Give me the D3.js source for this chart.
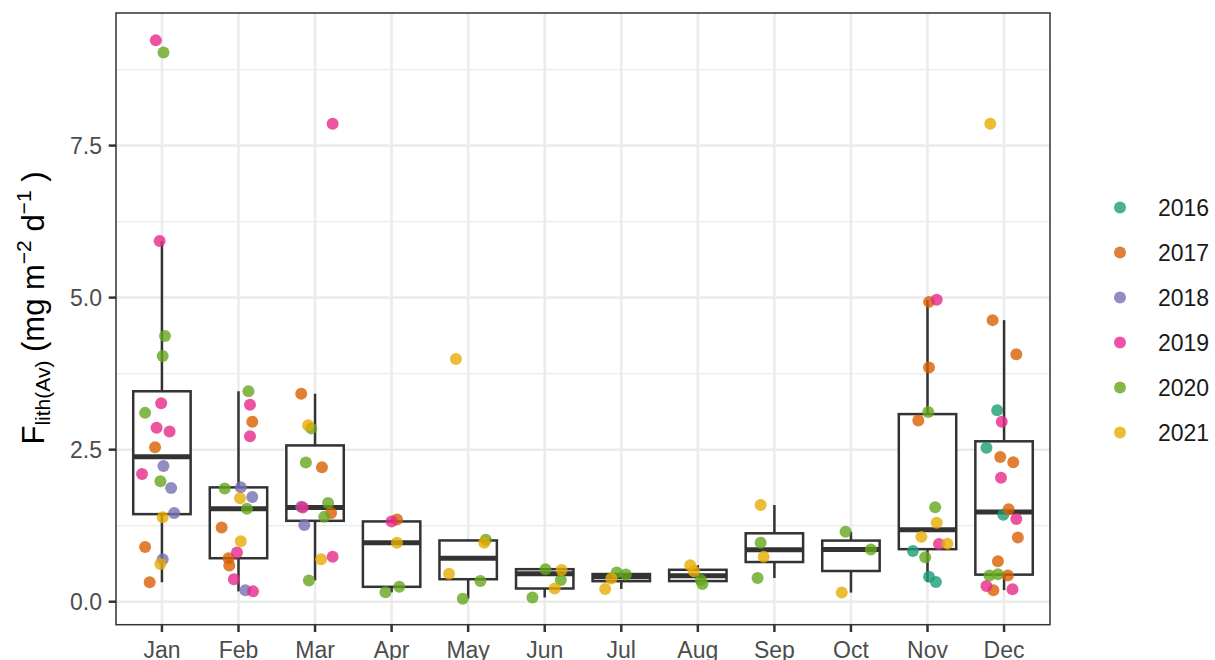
<!DOCTYPE html>
<html>
<head>
<meta charset="utf-8">
<script src="https://cdn.jsdelivr.net/npm/d3@7"></script>
<style>
  html, body { margin: 0; padding: 0; background: #fff; }
  svg { display: block; }
  text { font-family: "Liberation Sans", Arial, Helvetica, sans-serif; }
</style>
</head>
<body>
<svg id="chart" width="1215" height="660"></svg>
<script>
// ---------- data ----------
const months = ["Jan","Feb","Mar","Apr","May","Jun","Jul","Aug","Sep","Oct","Nov","Dec"];
const years = ["2016","2017","2018","2019","2020","2021"];
const yearColors = ["#1B9E77","#D95F02","#7570B3","#E7298A","#66A61E","#E6AB02"];
const yTicks = [0, 2.5, 5, 7.5];
const yTickLabels = ["0.0","2.5","5.0","7.5"];
const yMinorTicks = [1.25, 3.75, 6.25, 8.75];

// box statistics per month
const boxQ1     = [1.44, 0.715, 1.33, 0.245, 0.37, 0.217, 0.3375, 0.339, 0.6525, 0.505, 0.864, 0.445];
const boxMedian = [2.385, 1.53, 1.55, 0.97, 0.715, 0.46, 0.41, 0.4275, 0.855, 0.86, 1.183, 1.475];
const boxQ3     = [3.46, 1.88, 2.57, 1.32, 1.0075, 0.535, 0.455, 0.525, 1.125, 1.005, 3.085, 2.6375];
const whiskerLow  = [0.32, 0.17, 0.35, 0.155, 0.05, 0.07, 0.21, 0.29, 0.39, 0.15, 0.325, 0.19];
const whiskerHigh = [5.93, 3.46, 3.42, 1.35, 1.02, 0.535, 0.48, 0.60, 1.59, 1.15, 4.965, 4.63];

// observations: month, year, value, jitter (category units)
const obsMonth = [
  "Jan","Jan","Jan","Jan","Jan","Jan","Jan","Jan","Jan","Jan","Jan","Jan","Jan","Jan","Jan","Jan","Jan","Jan","Jan","Jan",
  "Feb","Feb","Feb","Feb","Feb","Feb","Feb","Feb","Feb","Feb","Feb","Feb","Feb","Feb","Feb","Feb","Feb",
  "Mar","Mar","Mar","Mar","Mar","Mar","Mar","Mar","Mar","Mar","Mar","Mar","Mar","Mar","Mar",
  "Apr","Apr","Apr","Apr","Apr",
  "May","May","May","May","May","May",
  "Jun","Jun","Jun","Jun","Jun",
  "Jul","Jul","Jul","Jul",
  "Aug","Aug","Aug","Aug",
  "Sep","Sep","Sep","Sep",
  "Oct","Oct","Oct",
  "Nov","Nov","Nov","Nov","Nov","Nov","Nov","Nov","Nov","Nov","Nov","Nov","Nov","Nov",
  "Dec","Dec","Dec","Dec","Dec","Dec","Dec","Dec","Dec","Dec","Dec","Dec","Dec","Dec","Dec","Dec","Dec","Dec","Dec","Dec"
];
const obsYear = [
  "2019","2020","2019","2020","2020","2019","2020","2019","2019","2017","2018","2019","2020","2018","2018","2021","2017","2018","2021","2017",
  "2020","2019","2017","2019","2020","2018","2018","2021","2020","2017","2021","2019","2017","2017","2019","2018","2019",
  "2019","2017","2021","2020","2020","2017","2020","2018","2019","2017","2020","2018","2019","2021","2020",
  "2019","2017","2021","2020","2020",
  "2021","2020","2021","2021","2020","2020",
  "2020","2021","2020","2021","2020",
  "2020","2020","2021","2021",
  "2021","2021","2020","2020",
  "2021","2020","2021","2020",
  "2020","2020","2021",
  "2019","2017","2017","2020","2017","2020","2021","2021","2019","2021","2016","2020","2016","2016",
  "2021","2017","2017","2016","2019","2016","2017","2017","2019","2017","2016","2019","2017","2017","2020","2020","2017","2019","2017","2019"
];
const obsValue = [
  9.23,9.03,5.93,4.37,4.04,3.265,3.105,2.86,2.80,2.54,2.23,2.10,1.98,1.87,1.46,1.39,0.90,0.70,0.62,0.32,
  3.46,3.24,2.96,2.72,1.86,1.88,1.72,1.70,1.53,1.22,0.995,0.81,0.715,0.595,0.37,0.19,0.17,
  7.86,3.42,2.90,2.85,2.29,2.21,1.625,1.56,1.55,1.46,1.395,1.26,0.74,0.70,0.35,
  1.32,1.35,0.97,0.245,0.155,
  3.99,1.02,0.97,0.46,0.34,0.05,
  0.535,0.52,0.355,0.217,0.07,
  0.48,0.447,0.38,0.21,
  0.60,0.50,0.355,0.29,
  1.59,0.97,0.74,0.39,
  1.15,0.86,0.15,
  4.965,4.93,3.85,3.12,2.98,1.555,1.30,1.066,0.95,0.955,0.835,0.73,0.41,0.325,
  7.86,4.63,4.07,3.15,2.96,2.53,2.38,2.295,2.04,1.52,1.43,1.36,1.055,0.665,0.43,0.45,0.43,0.26,0.19,0.205
];
const obsJitter = [
  -0.08,0.02,-0.03,0.04,0.01,-0.01,-0.22,-0.07,0.10,-0.09,0.02,-0.26,-0.02,0.12,0.16,0.01,-0.22,0.01,-0.02,-0.16,
  0.13,0.15,0.18,0.15,-0.18,0.03,0.18,0.02,0.11,-0.22,0.03,-0.02,-0.13,-0.12,-0.06,0.09,0.19,
  0.23,-0.18,-0.09,-0.05,-0.12,0.09,0.17,-0.18,-0.16,0.21,0.12,-0.14,0.23,0.08,-0.08,
  0.00,0.07,0.07,0.10,-0.08,
  -0.16,0.23,0.21,-0.25,0.16,-0.07,
  0.01,0.22,0.21,0.13,-0.16,
  -0.06,0.06,-0.13,-0.21,
  -0.10,-0.05,0.04,0.06,
  -0.18,-0.18,-0.14,-0.22,
  -0.07,0.26,-0.12,
  0.12,0.02,0.02,0.01,-0.12,0.10,0.12,-0.08,0.15,0.26,-0.19,-0.03,0.02,0.11,
  -0.18,-0.15,0.16,-0.09,-0.03,-0.23,-0.05,0.12,-0.04,0.06,-0.01,0.16,0.18,-0.08,-0.19,-0.08,0.05,-0.23,-0.14,0.11
];

// ---------- layout ----------
const panel = { left: 116, right: 1050, top: 13, bottom: 624.7 };
const svg = d3.select("#chart");

const x = d3.scalePoint().domain(months).range([panel.left, panel.right]).padding(0.6);
const step = x.step();
const y = d3.scaleLinear().domain([-0.378, 9.68]).range([panel.bottom, panel.top]);
const color = d3.scaleOrdinal().domain(years).range(yearColors);

const gridCol = "#EBEBEB", darkCol = "#333333", axisTextCol = "#4D4D4D";
const pointR = 6;

// panel background
svg.append("rect").attr("x", panel.left).attr("y", panel.top)
  .attr("width", panel.right - panel.left).attr("height", panel.bottom - panel.top)
  .attr("fill", "#fff");

// grid
const grid = svg.append("g");
grid.selectAll(".ymin").data(yMinorTicks).join("line")
  .attr("x1", panel.left).attr("x2", panel.right)
  .attr("y1", d => y(d)).attr("y2", d => y(d))
  .attr("stroke", gridCol).attr("stroke-width", 1.3);
grid.selectAll(".ymaj").data(yTicks).join("line")
  .attr("x1", panel.left).attr("x2", panel.right)
  .attr("y1", d => y(d)).attr("y2", d => y(d))
  .attr("stroke", gridCol).attr("stroke-width", 2.5);
grid.selectAll(".xmaj").data(months).join("line")
  .attr("x1", d => x(d)).attr("x2", d => x(d))
  .attr("y1", panel.top).attr("y2", panel.bottom)
  .attr("stroke", gridCol).attr("stroke-width", 2.5);

// boxplots
const boxW = step * 0.75;
const boxes = svg.append("g");
months.forEach((m, i) => {
  const cx = x(m);
  const g = boxes.append("g");
  g.append("line").attr("x1", cx).attr("x2", cx)
    .attr("y1", y(boxQ3[i])).attr("y2", y(whiskerHigh[i]))
    .attr("stroke", darkCol).attr("stroke-width", 2.5);
  g.append("line").attr("x1", cx).attr("x2", cx)
    .attr("y1", y(boxQ1[i])).attr("y2", y(whiskerLow[i]))
    .attr("stroke", darkCol).attr("stroke-width", 2.5);
  g.append("rect").attr("x", cx - boxW / 2).attr("width", boxW)
    .attr("y", y(boxQ3[i])).attr("height", y(boxQ1[i]) - y(boxQ3[i]))
    .attr("fill", "#fff").attr("stroke", darkCol).attr("stroke-width", 2.5);
  g.append("line").attr("x1", cx - boxW / 2).attr("x2", cx + boxW / 2)
    .attr("y1", y(boxMedian[i])).attr("y2", y(boxMedian[i]))
    .attr("stroke", darkCol).attr("stroke-width", 5);
});

// points
const obs = obsValue.map((v, i) => ({ month: obsMonth[i], year: obsYear[i], value: v, jitter: obsJitter[i] }))
  .sort((a, b) => d3.ascending(a.year, b.year));
svg.append("g").selectAll("circle").data(obs).join("circle")
  .attr("cx", d => x(d.month) + d.jitter * step)
  .attr("cy", d => y(d.value))
  .attr("r", pointR)
  .attr("fill", d => color(d.year))
  .attr("fill-opacity", 0.8);

// panel border
svg.append("rect").attr("x", panel.left).attr("y", panel.top)
  .attr("width", panel.right - panel.left).attr("height", panel.bottom - panel.top)
  .attr("fill", "none").attr("stroke", darkCol).attr("stroke-width", 1.5);

// y axis ticks + labels
const yAx = svg.append("g");
yAx.selectAll("line").data(yTicks).join("line")
  .attr("x1", panel.left - 7.3).attr("x2", panel.left)
  .attr("y1", d => y(d)).attr("y2", d => y(d))
  .attr("stroke", darkCol).attr("stroke-width", 2.5);
yAx.selectAll("text").data(yTicks).join("text")
  .attr("x", panel.left - 14).attr("y", d => y(d))
  .attr("dy", "0.36em")
  .attr("text-anchor", "end")
  .attr("font-size", 23).attr("fill", axisTextCol)
  .text((d, i) => yTickLabels[i]);

// x axis ticks + labels (cut by the bottom edge, as in the original)
const xAx = svg.append("g");
xAx.selectAll("line").data(months).join("line")
  .attr("x1", d => x(d)).attr("x2", d => x(d))
  .attr("y1", panel.bottom).attr("y2", panel.bottom + 7.3)
  .attr("stroke", darkCol).attr("stroke-width", 2.5);
xAx.selectAll("text").data(months).join("text")
  .attr("x", d => x(d)).attr("y", 658)
  .attr("text-anchor", "middle")
  .attr("font-size", 23).attr("fill", axisTextCol)
  .text(d => d);

// y axis title
const title = svg.append("text")
  .attr("transform", "translate(44,308) rotate(-90)")
  .attr("text-anchor", "middle")
  .attr("font-size", 31).attr("fill", "#000");
title.append("tspan").text("F");
title.append("tspan").attr("font-size", 21).attr("dy", 6).text("lith(Av)");
title.append("tspan").attr("dy", -6).text(" (mg m");
title.append("tspan").attr("font-size", 21).attr("dy", -13).text("\u22122");
title.append("tspan").attr("dy", 13).text(" d");
title.append("tspan").attr("font-size", 21).attr("dy", -13).text("\u22121");
title.append("tspan").attr("dy", 13).text(" )");

// legend
const legend = svg.append("g");
years.forEach((yr, i) => {
  const ly = 207.5 + i * 45;
  legend.append("circle").attr("cx", 1120).attr("cy", ly).attr("r", pointR)
    .attr("fill", color(yr)).attr("fill-opacity", 0.8);
  legend.append("text").attr("x", 1158).attr("y", ly).attr("dy", "0.36em")
    .attr("font-size", 23).attr("fill", "#1A1A1A").text(yr);
});
</script>
</body>
</html>
